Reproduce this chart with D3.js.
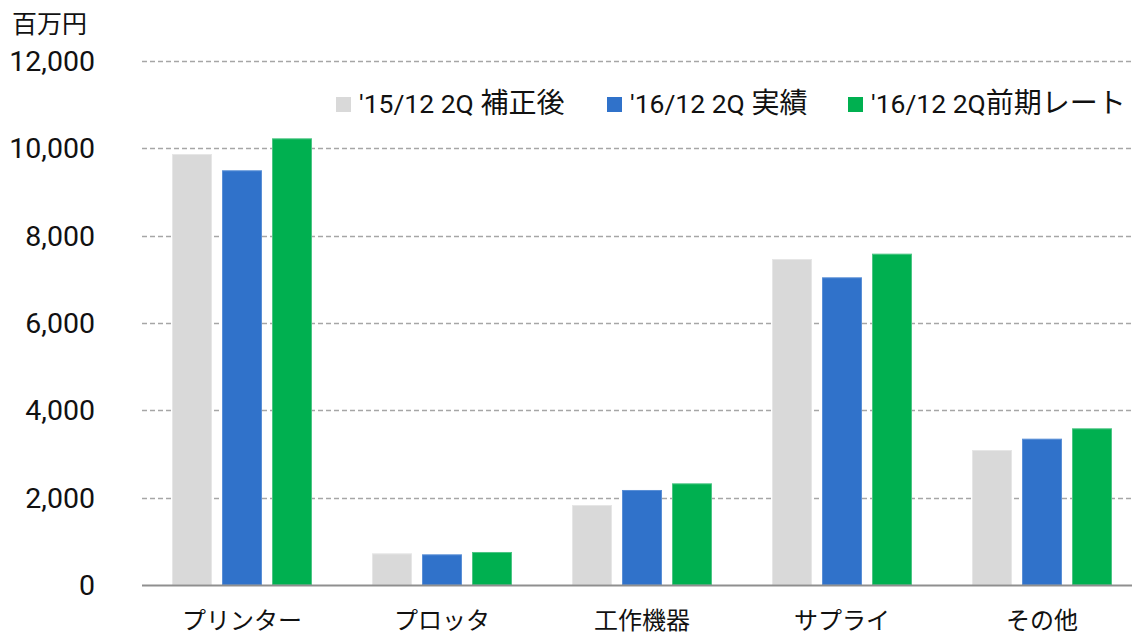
<!DOCTYPE html>
<html><head><meta charset="utf-8">
<script src="https://cdn.jsdelivr.net/npm/d3@7"></script>
<style>html,body{margin:0;padding:0;background:#fff;}svg{display:block;}</style>
</head><body>
<svg id="chart" width="1132" height="635"></svg>
<script>
const categories = ["プリンター", "プロッタ", "工作機器", "サプライ", "その他"];
const seriesNames = ["'15/12 2Q 補正後", "'16/12 2Q 実績", "'16/12 2Q前期レート"];
const seriesLatin = ["'15/12 2Q ", "'16/12 2Q ", "'16/12 2Q"];
const seriesCJK = ["補正後", "実績", "前期レート"];
const s2015 = [9870, 725, 1832, 7466, 3092];
const s2016 = [9497, 702, 2176, 7046, 3351];
const s2016prev = [10229, 756, 2328, 7588, 3588];
const yTicks = [0, 2000, 4000, 6000, 8000, 10000, 12000];
const colors = ["#D9D9D9", "#3072CA", "#00B050"];
const strokes = ["#E6E6E6", "#5A8FD6", "#4CC584"];
const unitLabel = "百万円";

(function () {
const seriesValues = [s2015, s2016, s2016prev];
const svg = d3.select("#chart");
const pLeft = 142, pRight = 1142, pTop = 61, pBottom = 585;

const x0 = d3.scaleBand().domain(categories).range([pLeft, pRight]).paddingInner(0).paddingOuter(0);
const x1 = d3.scaleBand().domain(d3.range(3)).range([30, 170]).paddingInner(0.2).paddingOuter(0);
const y = d3.scaleLinear().domain([0, 12000]).range([pBottom, pTop]);

// gridlines
svg.append("g").selectAll("line").data(yTicks.filter(d => d > 0)).join("line")
  .attr("x1", pLeft).attr("x2", 1132)
  .attr("y1", d => Math.round(y(d)) + 0.5).attr("y2", d => Math.round(y(d)) + 0.5)
  .attr("stroke", "#A6A6A6").attr("stroke-width", 1.3).attr("stroke-dasharray", "5,3");

// tick labels
svg.append("g").selectAll("text").data(yTicks).join("text")
  .attr("x", 95).attr("y", d => y(d) + 10)
  .attr("text-anchor", "end")
  .attr("font-family", "Roboto, 'Noto Sans', sans-serif").attr("font-size", 28.5)
  .attr("fill", "#111")
  .text(d => d3.format(",")(d));

// unit label
svg.append("text").attr("x", 12).attr("y", 33)
  .attr("font-family", "'Noto Sans CJK JP', sans-serif").attr("font-size", 25)
  .attr("fill", "#111").text(unitLabel);

// bars
const groups = svg.append("g").selectAll("g").data(categories).join("g")
  .attr("transform", d => `translate(${x0(d)},0)`);
groups.selectAll("rect").data((c, i) => seriesValues.map((s, k) => ({k, v: s[i]}))).join("rect")
  .attr("x", d => x1(d.k) + 0.5)
  .attr("width", x1.bandwidth() - 1)
  .attr("y", d => y(d.v) + 0.5)
  .attr("height", d => y(0) - y(d.v) - 0.5)
  .attr("fill", d => colors[d.k])
  .attr("stroke", d => strokes[d.k]).attr("stroke-width", 1);

// baseline axis
svg.append("line").attr("x1", pLeft).attr("x2", 1132)
  .attr("y1", y(0) + 0.5).attr("y2", y(0) + 0.5)
  .attr("stroke", "#8F8F8F").attr("stroke-width", 2);

// category labels
svg.append("g").selectAll("text").data(categories).join("text")
  .attr("x", d => x0(d) + x0.bandwidth() / 2).attr("y", 629)
  .attr("text-anchor", "middle")
  .attr("font-family", "'Noto Sans CJK JP', sans-serif").attr("font-size", 24)
  .attr("fill", "#111").text(d => d);

// legend
const legendX = [336, 607, 848];
const leg = svg.append("g").selectAll("g").data(seriesNames).join("g")
  .attr("transform", (d, i) => `translate(${legendX[i]},0)`);
leg.append("rect").attr("x", 0).attr("y", 97).attr("width", 15).attr("height", 15)
  .attr("fill", (d, i) => colors[i]);
const lt = leg.append("text").attr("x", 23).attr("y", 113).attr("fill", "#111");
lt.append("tspan").attr("font-family", "Roboto, sans-serif").attr("font-size", 26.5)
  .style("white-space", "pre").text((d, i) => seriesLatin[i]);
lt.append("tspan").attr("font-family", "'Noto Sans CJK JP', sans-serif").attr("font-size", 28)
  .text((d, i) => seriesCJK[i]);
})();
</script>
</body></html>
